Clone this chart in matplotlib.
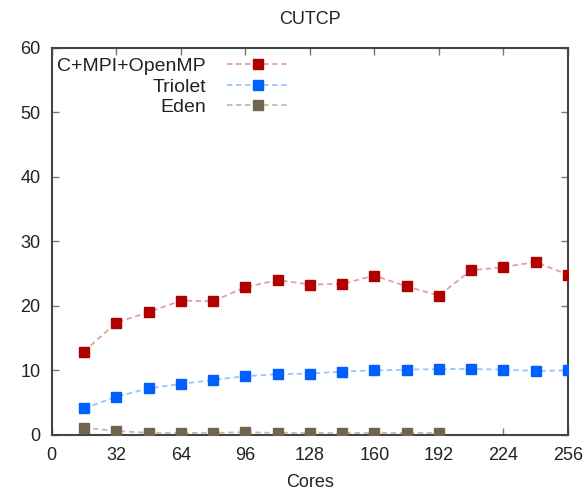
import matplotlib

matplotlib.use("Agg")
import matplotlib.pyplot as plt
from matplotlib.legend_handler import HandlerLine2D

plt.rcParams["font.family"] = ["Liberation Sans", "DejaVu Sans"]

cores = [16, 32, 48, 64, 80, 96, 112, 128, 144, 160, 176, 192, 208, 224, 240, 256]
c_mpi_openmp = [12.9, 17.4, 19.0, 20.8, 20.7, 22.9, 24.0, 23.3, 23.4, 24.7, 23.0, 21.6, 25.5, 26.0, 26.8, 24.8]
triolet = [4.1, 5.9, 7.2, 7.9, 8.5, 9.1, 9.4, 9.5, 9.8, 10.0, 10.1, 10.2, 10.2, 10.1, 9.9, 10.0]
eden_cores = cores[:12]
eden = [1.1, 0.6, 0.3, 0.3, 0.3, 0.4, 0.3, 0.3, 0.3, 0.3, 0.3, 0.3]

x_ticks = [0, 32, 64, 96, 128, 160, 192, 224, 256]
y_ticks = [0, 10, 20, 30, 40, 50, 60]

SERIES = [
    ("C+MPI+OpenMP", cores, c_mpi_openmp, "#b00000", "#e0a0a0"),
    ("Triolet", cores, triolet, "#0060ff", "#a0c0ff"),
    ("Eden", eden_cores, eden, "#706650", "#c0bab0"),
]

fig = plt.figure(figsize=(5.88, 4.93), dpi=100)
ax = fig.add_axes([0.088, 0.118, 0.878, 0.785])

handles = []
for label, xs, ys, color, line_color in SERIES:
    ax.plot(xs, ys, color=line_color, linestyle=(0, (3, 2)), linewidth=1.3, zorder=2)
    ax.plot(xs, ys, linestyle="none", marker="s", markersize=7,
            color=color, markeredgecolor=color, zorder=3)
    h, = ax.plot([], [], color=line_color, linestyle=(0, (3, 2)), linewidth=1.3,
                 marker="s", markersize=7, markerfacecolor=color, markeredgecolor=color,
                 label=label)
    handles.append(h)

ax.set_xlim(0, 256)
ax.set_ylim(0, 60)
ax.set_xticks(x_ticks)
ax.set_yticks(y_ticks)
ax.tick_params(direction="in", length=5, width=1.0, color="#777777",
               labelsize=13, top=True, right=True, labelcolor="#222222")
ax.tick_params(axis="x", pad=9)
ax.tick_params(axis="y", pad=8)
for spine in ax.spines.values():
    spine.set_color("#444444")
    spine.set_linewidth(1.5)

ax.set_xlabel("Cores", fontsize=13, color="#222222", labelpad=7)
ax.set_title("CUTCP", fontsize=13, color="#222222", pad=17)

legend = ax.legend(handles=handles, loc="upper left", bbox_to_anchor=(-0.012, 1.005),
                   frameon=False, fontsize=14, markerfirst=False, handlelength=3.2,
                   handletextpad=1.1, labelspacing=0.15, borderaxespad=0.2,
                   handler_map={h: HandlerLine2D(numpoints=1) for h in handles})
legend._legend_box.align = "right"
for text in legend.get_texts():
    text.set_color("#222222")

fig.savefig("out.png", dpi=100)
